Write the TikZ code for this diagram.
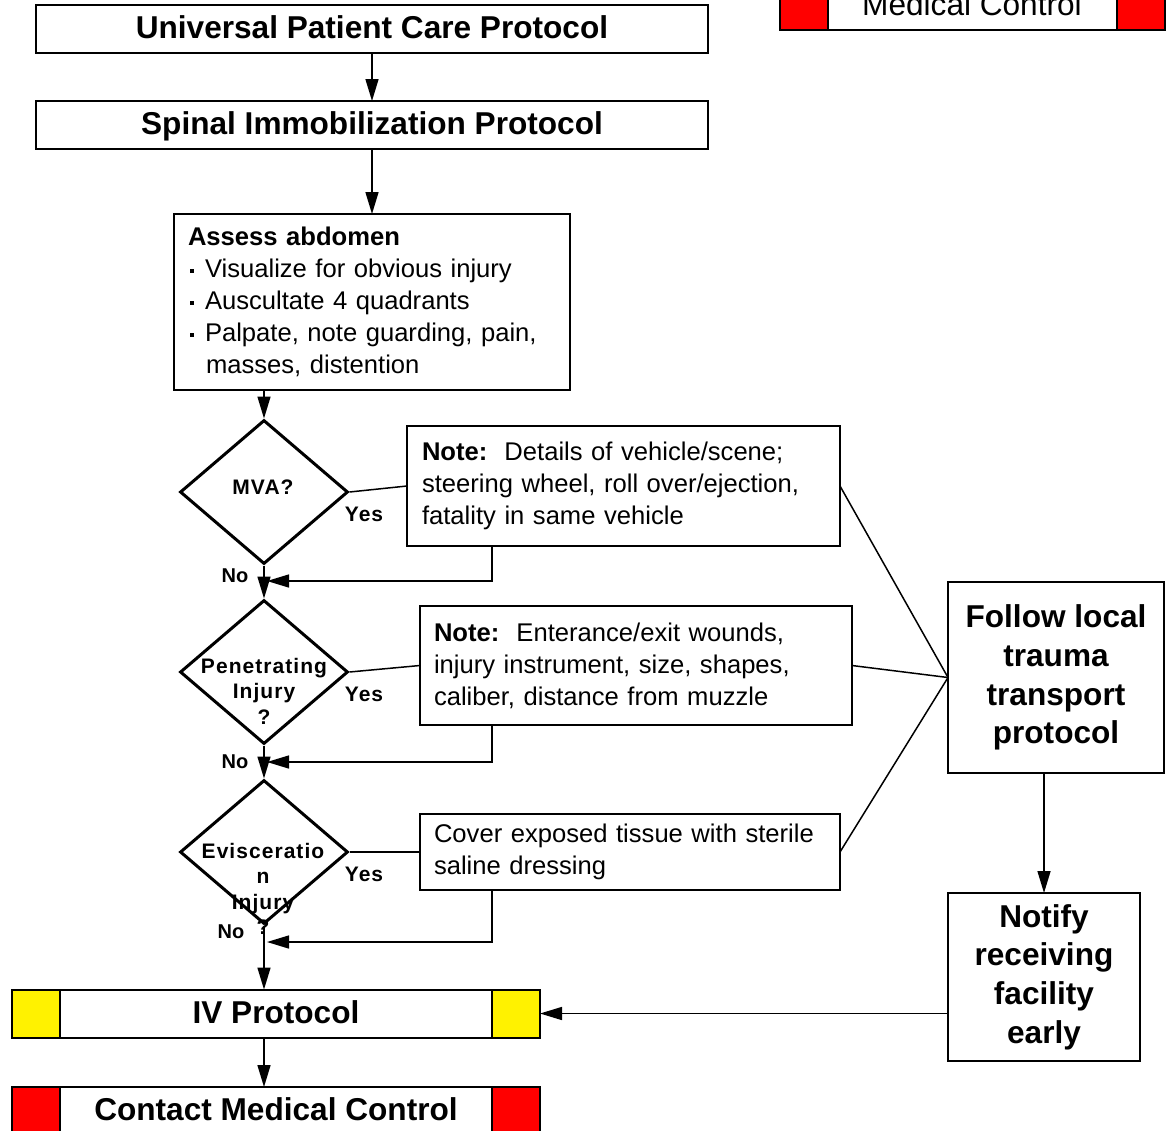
\documentclass[tikz,border=0pt]{standalone}
\usepackage{fontspec}
\setmainfont{Liberation Sans}
\usetikzlibrary{shapes.geometric,arrows.meta}
\newcommand\fBig{\fontsize{31.6}{38.7}\selectfont\bfseries}
\newcommand\fBigR{\fontsize{31.6}{38.7}\selectfont}
\newcommand\fMid{\fontsize{25.6}{32}\selectfont}
\newcommand\fDia{\fontsize{21}{25.5}\selectfont\bfseries\addfontfeature{LetterSpace=5}}
\newcommand\fNo{\fontsize{20}{23}\selectfont\bfseries}
\newcommand\blt{\hspace*{2pt}\rule[5pt]{4pt}{4pt}\hspace{11pt}}
\begin{document}
\begin{tikzpicture}[x=1pt,y=-1pt,
  box/.style={draw, line width=2pt, fill=white, inner sep=0pt, outer sep=0pt},
  hdr/.style={box, font=\fBig, minimum height=48pt, text height=23pt, text depth=4pt},
  notebox/.style={box, font=\fMid, align=left},
  dia/.style={diamond, draw, line width=3pt, minimum width=168pt, minimum height=144pt, inner sep=0pt, fill=white},
  dtxt/.style={font=\fDia, align=center, inner sep=0pt},
  lab/.style={font=\fDia, inner sep=0pt},
  nolab/.style={font=\fNo, inner sep=0pt},
  arr/.style={line width=1.5pt, -{Triangle[length=22pt,width=13pt]}},
  conn/.style={line width=1.5pt},
  sq/.style={line width=2pt}]
\useasboundingbox (0,0) rectangle (1169,1130);
\clip (0,0) rectangle (1169,1130);
\fill[white] (0,0) rectangle (1169,1130);

% top right box (cut off)
\node[box, minimum width=385pt, minimum height=48pt] (mcbox) at (972.5,6) {};
\draw[sq, fill=red] (mcbox.north west) rectangle ([xshift=48pt]mcbox.south west);
\draw[sq, fill=red] ([xshift=-48pt]mcbox.north east) rectangle (mcbox.south east);
\node[font=\fBigR, anchor=base, inner sep=0pt] (mctext) at (972,15) {Medical Control};

% headers
\node[hdr, minimum width=672pt] (upc) at (372,29) {Universal Patient Care Protocol};
\node[hdr, minimum width=672pt] (sip) at (372,125) {Spinal Immobilization Protocol};

% assess
\node[notebox, text width=368pt, inner xsep=14pt, minimum height=176pt] (assess) at (372,302)
  {\textbf{Assess abdomen}\\
   \blt Visualize for obvious injury\\
   \blt Auscultate 4 quadrants\\
   \blt Palpate, note guarding, pain,\\
   \hspace*{18pt}masses, distention};

% diamonds
\node[dia] (d1) at (264,492) {};
\node[dtxt] (d1t) at (263,487) {MVA?};
\node[dia] (d2) at (264,672) {};
\node[dtxt] (d2t) at (264,691) {Penetrating\\Injury\\?};
\node[dia] (d3) at (264,852) {};

% notes
\node[notebox, text width=403pt, inner xsep=15pt, minimum height=120pt] (note1) at (623.5,486)
  {\textbf{Note:}~~Details of vehicle/scene;\\steering wheel, roll over/ejection,\\fatality in same vehicle};
\node[notebox, text width=404pt, inner xsep=14pt, minimum height=119pt] (note2) at (636,665.5)
  {\textbf{Note:}~~Enterance/exit wounds,\\injury instrument, size, shapes,\\caliber, distance from muzzle};
\node[notebox, text width=392pt, inner xsep=14pt, minimum height=76pt] (box3) at (630,852)
  {Cover exposed tissue with sterile\\saline dressing};

% right column
\node[box, minimum width=216pt, minimum height=191pt, align=center, font=\fBig] (follow) at (1056,677.5)
  {Follow local\\trauma\\transport\\protocol};
\node[box, minimum width=192pt, minimum height=168pt, align=center, font=\fBig] (notify) at (1044,977)
  {Notify\\receiving\\facility\\early};

% bottom boxes
\node[hdr, minimum width=528pt] (iv) at (276,1013.5) {IV Protocol};
\draw[sq, fill=yellow] (iv.north west) rectangle ([xshift=48pt]iv.south west);
\draw[sq, fill=yellow] ([xshift=-48pt]iv.north east) rectangle (iv.south east);
\node[hdr, minimum width=528pt] (cmc) at (276,1111) {Contact Medical Control};
\draw[sq, fill=red] (cmc.north west) rectangle ([xshift=48pt]cmc.south west);
\draw[sq, fill=red] ([xshift=-48pt]cmc.north east) rectangle (cmc.south east);

% connectors
\draw[arr] (upc) -- (sip);
\draw[arr] (sip) -- (assess);
\draw[arr] (assess.south -| d1.north) -- (d1.north);
\draw[arr] (d1.south) -- (d2.north);
\draw[arr] (d2.south) -- (d3.north);
\draw[arr] (d3.south) -- (d3.south |- iv.north);
\draw[arr] (iv.south -| d3.south) -- (d3.south |- cmc.north);

\draw[conn] (d1.east) -- (note1.west);
\draw[conn] (d2.east) -- (note2.west);
\draw[conn] (d3.east) -- (box3.west);

\coordinate (j1) at (267,581);
\coordinate (j2) at (267,762);
\coordinate (j3) at (267,942);
\draw[arr] ([xshift=85pt]note1.south west) |- (j1);
\draw[arr] ([xshift=72pt]note2.south west) |- (j2);
\draw[arr] ([xshift=72pt]box3.south west) |- (j3);

\draw[conn] (note1.east) -- (follow.west);
\draw[conn] (note2.east) -- (follow.west);
\draw[conn] (box3.east) -- (follow.west);
\draw[arr] (follow.south -| notify.north) -- (notify.north);
\draw[arr] (notify.west |- iv.east) -- (iv.east);

% diamond 3 text on top
\node[dtxt] (d3t) at (263,889) {Evisceratio\\n\\Injury\\?};

% labels
\node[lab] (yes1) at (364,514) {Yes};
\node[lab] (yes2) at (364,694) {Yes};
\node[lab] (yes3) at (364,874) {Yes};
\node[nolab] (no1) at (235,576) {No};
\node[nolab] (no2) at (235,762) {No};
\node[nolab] (no3) at (231,932) {No};
\end{tikzpicture}
\end{document}
